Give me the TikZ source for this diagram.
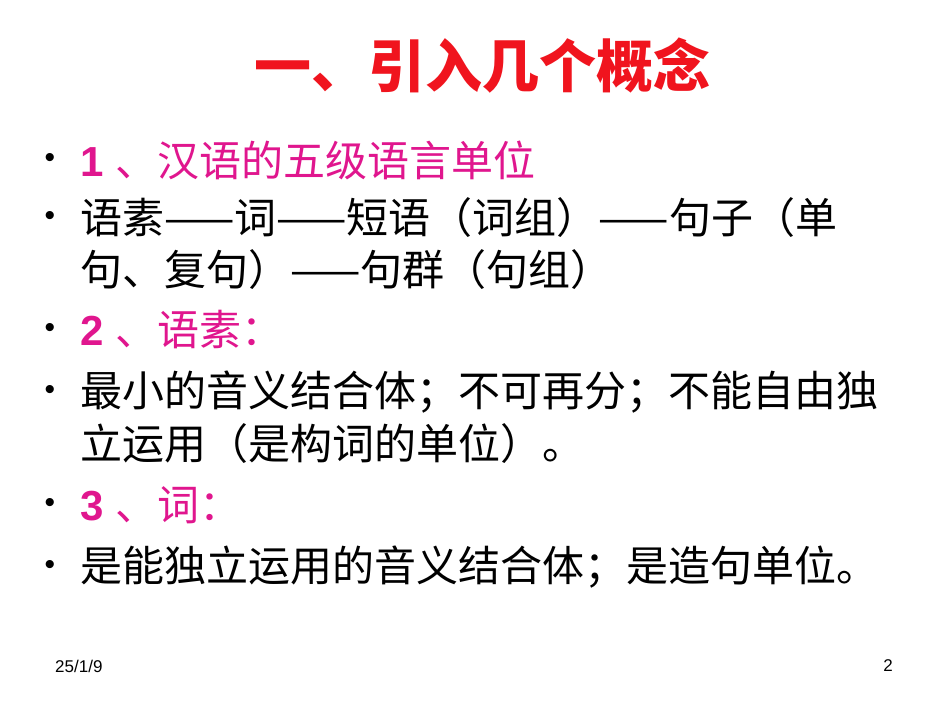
\documentclass[tikz,border=0pt]{standalone}
\usepackage{fontspec}
\setmainfont{Liberation Sans}
\newfontfamily\cjk{Noto Sans CJK SC}
\definecolor{mag}{HTML}{E0168E}
\definecolor{ttl}{HTML}{F0141E}
\begin{document}
\begin{tikzpicture}[x=1pt,y=-1pt,
  txt/.style={anchor=west,inner sep=0pt,font=\fontsize{42}{48}\selectfont\cjk},
  bul/.style={anchor=center,inner sep=0pt,font=\fontsize{30}{36}\selectfont}]
\useasboundingbox[fill=white] (0,0) rectangle (950,713);
\node[inner sep=0pt,text=ttl,font=\fontsize{57}{62}\selectfont\cjk\bfseries] (title) at (482,66) {一、引入几个概念};
\foreach \n/\y in {b1/160,b2/218,b3/330,b4/392,b5/505,b6/567}
  \node[bul] (\n) at (50,\y) {•};
\node[txt,text=mag] (l1) at (80,160) {{\fontspec{Liberation Sans}\bfseries 1 }、汉语的五级语言单位};
\node[txt] (l2) at (80,218) {语素——词——短语（词组）——句子（单};
\node[txt] (l2b) at (80,270) {句、复句）——句群（句组）};
\node[txt,text=mag] (l3) at (80,330) {{\fontspec{Liberation Sans}\bfseries 2 }、语素：};
\node[txt] (l4) at (80,392) {最小的音义结合体；不可再分；不能自由独};
\node[txt] (l4b) at (80,444) {立运用（是构词的单位）。};
\node[txt,text=mag] (l5) at (80,505) {{\fontspec{Liberation Sans}\bfseries 3 }、词：};
\node[txt] (l6) at (80,567) {是能独立运用的音义结合体；是造句单位。};
\node[anchor=west,inner sep=0pt,font=\fontsize{17}{20}\selectfont] (date) at (55,666) {25/1/9};
\node[anchor=east,inner sep=0pt,font=\fontsize{17}{20}\selectfont] (pg) at (893,666) {2};
\end{tikzpicture}
\end{document}
